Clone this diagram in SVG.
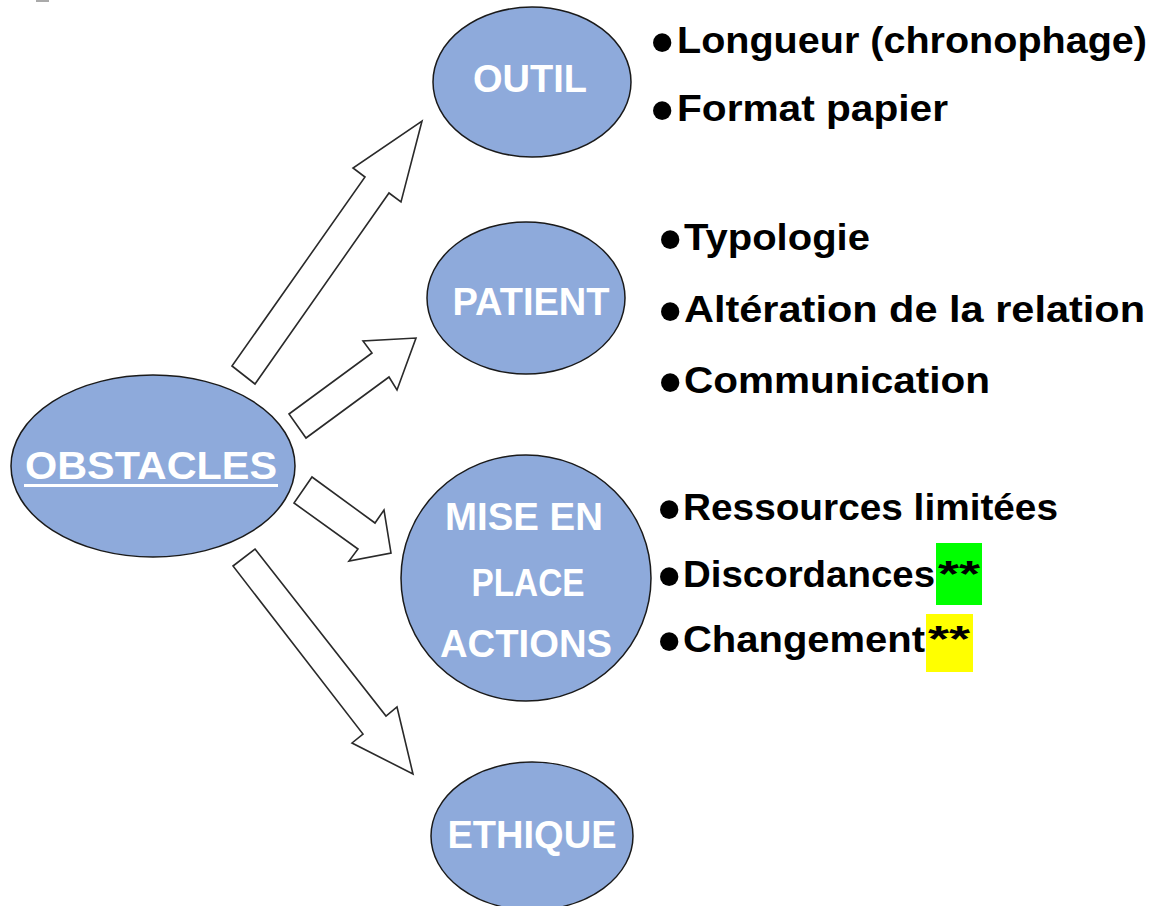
<svg xmlns="http://www.w3.org/2000/svg" width="1156" height="906" viewBox="0 0 1156 906">
<style>
.node{fill:#8EAADB;stroke:#1a1a1a;stroke-width:1.5}
.lbl{font-family:"Liberation Sans",Arial,sans-serif;font-weight:bold;fill:#fff;font-size:38px;text-anchor:middle}
.arrow{fill:#fff;stroke:#2a2a2a;stroke-width:1.6;stroke-linejoin:miter}
.item{font-family:"Liberation Sans",Arial,sans-serif;font-weight:bold;fill:#000;font-size:37px}
.bul{font-family:"Liberation Sans",Arial,sans-serif;font-weight:bold;fill:#000;font-size:64px}
</style>
<rect width="1156" height="906" fill="#fff"/>
<rect x="36" y="0" width="13" height="2" fill="#aaa"/>
<g id="connectors">
<polygon class="arrow" points="232,366 365,177 353,168 422,121 401,202 389,193 255,384"/>
<polygon class="arrow" points="289,414 372,353 363,341 416,338 397,390 389,377 306,438"/>
<polygon class="arrow" points="312,477 375,523 384,510 391,553 349,561 358,549 294,503"/>
<polygon class="arrow" points="255,549 386,716 397,707 413,774 352,743 363,734 233,566"/>
</g>
<g id="obstacles">
<ellipse class="node" cx="153" cy="466" rx="142" ry="91"/>
<text class="lbl" x="151" y="479" font-size="48" textLength="252" lengthAdjust="spacingAndGlyphs">OBSTACLES</text>
<rect x="24" y="484" width="254" height="3" fill="#fff"/>
</g>
<g id="outil">
<ellipse class="node" cx="532" cy="82" rx="99" ry="75"/>
<text class="lbl" x="530" y="92" textLength="114" lengthAdjust="spacingAndGlyphs">OUTIL</text>
</g>
<g id="patient">
<ellipse class="node" cx="526" cy="298" rx="99" ry="76"/>
<text class="lbl" x="531" y="315" textLength="157" lengthAdjust="spacingAndGlyphs">PATIENT</text>
</g>
<g id="mise-en-place">
<ellipse class="node" cx="526" cy="578" rx="125" ry="123"/>
<text class="lbl" x="524" y="530" textLength="158" lengthAdjust="spacingAndGlyphs">MISE EN</text>
<text class="lbl" x="528" y="596" textLength="113" lengthAdjust="spacingAndGlyphs">PLACE</text>
<text class="lbl" x="526" y="657" textLength="172" lengthAdjust="spacingAndGlyphs">ACTIONS</text>
</g>
<g id="ethique">
<ellipse class="node" cx="532" cy="836" rx="101" ry="74"/>
<text class="lbl" x="532" y="848" textLength="169" lengthAdjust="spacingAndGlyphs">ETHIQUE</text>
</g>
<g id="list-outil">
<text class="bul" x="651" y="64">•</text>
<text class="item" x="677" y="53" textLength="470" lengthAdjust="spacingAndGlyphs">Longueur (chronophage)</text>
<text class="bul" x="651" y="132">•</text>
<text class="item" x="677" y="121" textLength="271" lengthAdjust="spacingAndGlyphs">Format papier</text>
</g>
<g id="list-patient">
<text class="bul" x="659" y="261">•</text>
<text class="item" x="684" y="250" textLength="186" lengthAdjust="spacingAndGlyphs">Typologie</text>
<text class="bul" x="659" y="333">•</text>
<text class="item" x="684" y="322" textLength="461" lengthAdjust="spacingAndGlyphs">Altération de la relation</text>
<text class="bul" x="659" y="404">•</text>
<text class="item" x="684" y="393" textLength="306" lengthAdjust="spacingAndGlyphs">Communication</text>
</g>
<g id="list-mise">
<rect x="936" y="543" width="46" height="62" fill="#00FF00"/>
<rect x="926" y="614" width="47" height="58" fill="#FFFF00"/>
<text class="bul" x="658" y="531">•</text>
<text class="item" x="683" y="520" textLength="375" lengthAdjust="spacingAndGlyphs">Ressources limitées</text>
<text class="bul" x="658" y="598">•</text>
<text class="item" x="683" y="587" textLength="252" lengthAdjust="spacingAndGlyphs">Discordances</text>
<text class="item" x="938" y="587" textLength="42" lengthAdjust="spacingAndGlyphs">**</text>
<text class="bul" x="658" y="663">•</text>
<text class="item" x="683" y="652" textLength="242" lengthAdjust="spacingAndGlyphs">Changement</text>
<text class="item" x="928" y="652" textLength="42" lengthAdjust="spacingAndGlyphs">**</text>
</g>
</svg>
